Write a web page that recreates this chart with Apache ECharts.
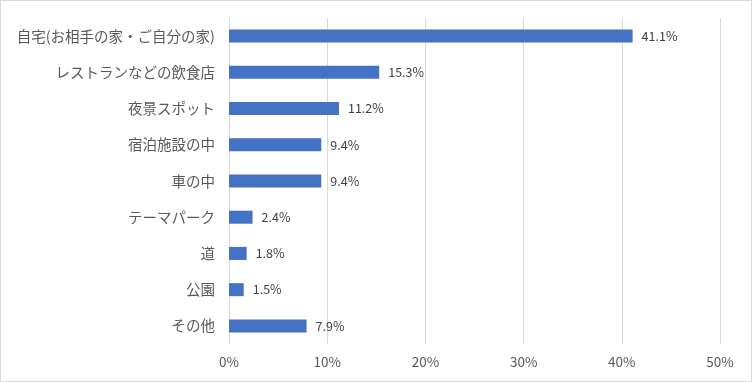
<!DOCTYPE html>
<html><head><meta charset="utf-8">
<script src="https://cdn.jsdelivr.net/npm/echarts@6/dist/echarts.min.js"></script>
<style>
html,body{margin:0;padding:0;background:#fff;}
#c{width:750px;height:380px;border:1px solid #d9d9d9;}
</style></head>
<body><div id="c"></div>
<script>
const categories = ['自宅(お相手の家・ご自分の家)','レストランなどの飲食店','夜景スポット','宿泊施設の中','車の中','テーマパーク','道','公園','その他'];
const values = [41.1, 15.3, 11.2, 9.4, 9.4, 2.4, 1.8, 1.5, 7.9];
const xTicks = [0, 10, 20, 30, 40, 50];

const chart = echarts.init(document.getElementById('c'));
const font = '"Noto Sans CJK JP", "Noto Sans", sans-serif';
chart.setOption({
  animation: false,
  grid: {left: 228, right: 31, top: 17, bottom: 37, containLabel: false},
  xAxis: {
    type: 'value', min: xTicks[0], max: xTicks[xTicks.length-1], interval: 10,
    axisLine: {show: false}, axisTick: {show: false},
    splitLine: {lineStyle: {color: '#d9d9d9', width: 1}},
    axisLabel: {formatter: v => v + '%', color: '#595959', fontSize: 13.5, fontFamily: font, margin: 11}
  },
  yAxis: {
    type: 'category', data: categories, inverse: true,
    axisLine: {show: false}, axisTick: {show: false},
    axisLabel: {color: '#595959', fontSize: 14.5, fontFamily: font, margin: 14}
  },
  series: [{
    type: 'bar', data: values, barWidth: 13,
    itemStyle: {color: '#4472c4'},
    label: {show: true, position: 'right', distance: 9, formatter: p => p.value.toFixed(1) + '%',
      color: '#404040', fontSize: 12.5, fontFamily: font}
  }]
});
</script></body></html>
